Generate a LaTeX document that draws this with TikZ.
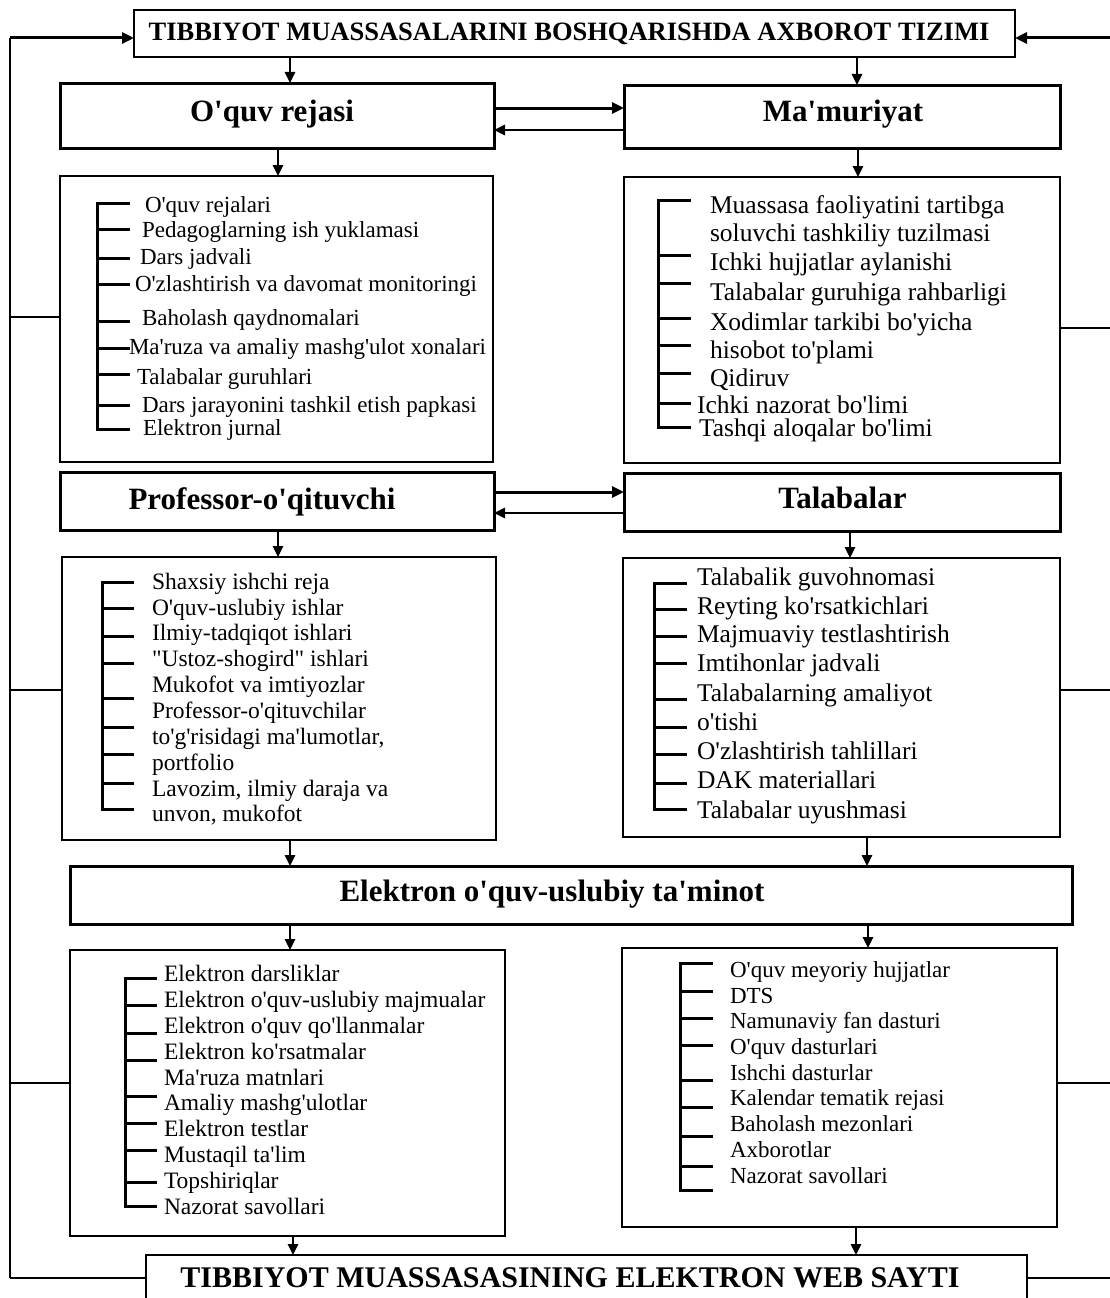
\documentclass[tikz,border=0pt]{standalone}
\usepackage{fontspec}
\newfontfamily\tnr{Liberation Serif}
\usetikzlibrary{arrows.meta}
\begin{document}
\begin{tikzpicture}[x=1pt,y=1pt,
  every node/.style={inner sep=0pt, outer sep=0pt},
  thickbox/.style={draw, line width=3pt},
  thinbox/.style={draw, line width=2pt},
  ttl/.style={font=\tnr\bfseries\fontsize{31}{31}\selectfont},
  ttlcap/.style={font=\tnr\bfseries\fontsize{26.5}{26.5}\selectfont},
  ttlbot/.style={font=\tnr\bfseries\fontsize{30}{30}\selectfont},
  itemS/.style={anchor=base west, font=\tnr\fontsize{23}{23}\selectfont},
  itemM/.style={anchor=base west, font=\tnr\fontsize{23.5}{23.5}\selectfont},
  itemL/.style={anchor=base west, font=\tnr\fontsize{25.5}{25.5}\selectfont},
  arr/.style={line width=2.5pt, -{Triangle[length=11pt,width=10pt]}},
  harr/.style={line width=3pt, -{Triangle[length=12pt,width=11pt]}},
  fb/.style={line width=2pt},
  brk/.style={line width=3pt, line cap=rect}
]
\useasboundingbox (0,0) rectangle (1110,-1298);
\clip (0,0) rectangle (1110,-1298);
\fill[white] (0,0) rectangle (1110,-1298);

% ---------------- boxes ----------------
\node[thinbox, minimum width=881pt, minimum height=47pt] (top) at (574.5,-33.5) {};
\node[thickbox, minimum width=434pt, minimum height=65pt] (rejasi) at (277,-115.5) {};
\node[thickbox, minimum width=436pt, minimum height=63pt] (mamur) at (842,-116.5) {};
\node[thinbox, minimum width=433pt, minimum height=286pt] (listA) at (276.5,-319) {};
\node[thinbox, minimum width=436pt, minimum height=286pt] (listB) at (842,-320) {};
\node[thickbox, minimum width=434pt, minimum height=58pt] (prof) at (277,-501) {};
\node[thickbox, minimum width=436pt, minimum height=58pt] (talab) at (842,-502) {};
\node[thinbox, minimum width=434pt, minimum height=283pt] (listC) at (279,-698.5) {};
\node[thinbox, minimum width=437pt, minimum height=279pt] (listD) at (841.5,-697.5) {};
\node[thickbox, minimum width=1002pt, minimum height=58pt] (elek) at (571,-895) {};
\node[thinbox, minimum width=435pt, minimum height=286pt] (listE) at (287.5,-1093) {};
\node[thinbox, minimum width=435pt, minimum height=279pt] (listF) at (839.5,-1087.5) {};
\node[thinbox, minimum width=881pt, minimum height=65pt] (bottom) at (586.5,-1287.5) {};

% ---------------- titles ----------------
\node[ttlcap] (topT) at (569,-34) {TIBBIYOT MUASSASALARINI BOSHQARISHDA AXBOROT TIZIMI};
\node[ttl] (rejasiT) at (272,-114) {O'quv rejasi};
\node[ttl] (mamurT) at (843,-114) {Ma'muriyat};
\node[ttl] (profT) at (262,-502) {Professor-o'qituvchi};
\node[ttl] (talabT) at (842.5,-498) {Talabalar};
\node[ttl] (elekT) at (552,-894) {Elektron o'quv-uslubiy ta'minot};
\node[ttlbot] (bottomT) at (570,-1278) {TIBBIYOT MUASSASASINING ELEKTRON WEB SAYTI};

% ---------------- list A ----------------
\foreach \t/\x/\y [count=\i] in {
  O'quv rejalari/145/205,
  Pedagoglarning ish yuklamasi/142/230,
  Dars jadvali/140/257,
  O'zlashtirish va davomat monitoringi/135/284,
  Baholash qaydnomalari/142/318,
  Ma'ruza va amaliy mashg'ulot xonalari/129/347,
  Talabalar guruhlari/137/377,
  Dars jarayonini tashkil etish papkasi/142/405,
  Elektron jurnal/143/428}
  \node[itemS] (a\i) at (\x,-\y-7.5) {\t};
\draw[brk] (97,-203) -- (97,-429);
\foreach \t in {203,229,258,284,321,348,374,405,429}
  \draw[brk] (97,-\t) -- (128,-\t);

% ---------------- list B ----------------
\foreach \t/\x/\y [count=\i] in {
  Muassasa faoliyatini tartibga/710/205,
  soluvchi tashkiliy tuzilmasi/710/233,
  Ichki hujjatlar aylanishi/710/262,
  Talabalar guruhiga rahbarligi/710/292,
  Xodimlar tarkibi bo'yicha/710/322,
  hisobot to'plami/710/350,
  Qidiruv/710/378,
  Ichki nazorat bo'limi/697/405,
  Tashqi aloqalar bo'limi/699/428}
  \node[itemL] (b\i) at (\x,-\y-8) {\t};
\draw[brk] (658,-200) -- (658,-427);
\foreach \t in {200,255,283,318,345,373,403,427}
  \draw[brk] (658,-\t) -- (689,-\t);

% ---------------- list C ----------------
\foreach \t/\x/\y [count=\i] in {
  Shaxsiy ishchi reja/152/582,
  O'quv-uslubiy ishlar/152/608,
  Ilmiy-tadqiqot ishlari/152/633,
  "Ustoz-shogird" ishlari/152/659,
  Mukofot va imtiyozlar/152/685,
  Professor-o'qituvchilar/152/711,
  {to'g'risidagi ma'lumotlar,}/152/737,
  portfolio/152/763,
  {Lavozim, ilmiy daraja va}/152/789,
  {unvon, mukofot}/152/814}
  \node[itemM] (c\i) at (\x,-\y-7.5) {\t};
\draw[brk] (102,-582) -- (102,-809);
\foreach \t in {582,608,636,663,698,727,754,783,809}
  \draw[brk] (102,-\t) -- (132,-\t);

% ---------------- list D ----------------
\foreach \t/\x/\y [count=\i] in {
  Talabalik guvohnomasi/697/577,
  Reyting ko'rsatkichlari/697/606,
  Majmuaviy testlashtirish/697/634,
  Imtihonlar jadvali/697/663,
  Talabalarning amaliyot/697/693,
  o'tishi/697/722,
  O'zlashtirish tahlillari/697/751,
  DAK materiallari/697/780,
  Talabalar uyushmasi/697/810}
  \node[itemL] (d\i) at (\x,-\y-8) {\t};
\draw[brk] (654,-583) -- (654,-809);
\foreach \t in {583,609,636,663,699,727,754,783,809}
  \draw[brk] (654,-\t) -- (685,-\t);

% ---------------- list E ----------------
\foreach \t/\x/\y [count=\i] in {
  Elektron darsliklar/164/974,
  Elektron o'quv-uslubiy majmualar/164/1000,
  Elektron o'quv qo'llanmalar/164/1026,
  Elektron ko'rsatmalar/164/1052,
  Ma'ruza matnlari/164/1078,
  Amaliy mashg'ulotlar/164/1103,
  Elektron testlar/164/1129,
  Mustaqil ta'lim/164/1155,
  Topshiriqlar/164/1181,
  Nazorat savollari/164/1207}
  \node[itemM] (e\i) at (\x,-\y-7.5) {\t};
\draw[brk] (125,-978) -- (125,-1206);
\foreach \t in {978,1005,1033,1060,1096,1123,1150,1182,1206}
  \draw[brk] (125,-\t) -- (155,-\t);

% ---------------- list F ----------------
\foreach \t/\x/\y [count=\i] in {
  O'quv meyoriy hujjatlar/730/970,
  DTS/730/996,
  Namunaviy fan dasturi/730/1021,
  O'quv dasturlari/730/1047,
  Ishchi dasturlar/730/1073,
  Kalendar tematik rejasi/730/1098,
  Baholash mezonlari/730/1124,
  Axborotlar/730/1150,
  Nazorat savollari/730/1176}
  \node[itemS] (f\i) at (\x,-\y-7.5) {\t};
\draw[brk] (680,-963) -- (680,-1190);
\foreach \t in {963,991,1018,1045,1080,1107,1136,1166,1190}
  \draw[brk] (680,-\t) -- (711,-\t);

% ---------------- vertical connectors ----------------
\coordinate (cA) at (290,0);
\coordinate (cB) at (857,0);
\coordinate (cC) at (278,0);
\coordinate (cD) at (858,0);
\coordinate (cE) at (850,0);
\coordinate (cF) at (290,0);
\coordinate (cG) at (867,0);
\coordinate (cH) at (290,0);
\coordinate (cI) at (868,0);
\coordinate (cJ) at (293,0);
\coordinate (cK) at (856,0);
\draw[arr] (top.south -| cA) -- (rejasi.north -| cA);
\draw[arr] (top.south -| cB) -- (mamur.north -| cB);
\draw[arr] (rejasi.south -| cC) -- (listA.north -| cC);
\draw[arr] (mamur.south -| cD) -- (listB.north -| cD);
\draw[arr] (prof.south -| cC) -- (listC.north -| cC);
\draw[arr] (talab.south -| cE) -- (listD.north -| cE);
\draw[arr] (listC.south -| cF) -- (elek.north -| cF);
\draw[arr] (listD.south -| cG) -- (elek.north -| cG);
\draw[arr] (elek.south -| cH) -- (listE.north -| cH);
\draw[arr] (elek.south -| cI) -- (listF.north -| cI);
\draw[arr] (listE.south -| cJ) -- (bottom.north -| cJ);
\draw[arr] (listF.south -| cK) -- (bottom.north -| cK);

% ---------------- horizontal connectors ----------------
\coordinate (h1) at (0,-108);
\coordinate (h2) at (0,-130);
\coordinate (h3) at (0,-492);
\coordinate (h4) at (0,-513);
\draw[harr] (rejasi.east |- h1) -- (mamur.west |- h1);
\draw[arr] (mamur.west |- h2) -- (rejasi.east |- h2);
\draw[harr] (prof.east |- h3) -- (talab.west |- h3);
\draw[arr] (talab.west |- h4) -- (prof.east |- h4);

% ---------------- feedback lines ----------------
\coordinate (Ltop) at (10,-38);
\coordinate (Lbot) at (10,-1278);
\coordinate (LA) at (10,-317);
\coordinate (LC) at (10,-690);
\coordinate (LE) at (10,-1083);
\draw[fb] (Lbot) -- (Ltop);
\draw[harr] (Ltop) -- (top.west |- Ltop);
\draw[fb] (listA.west |- LA) -- (LA);
\draw[fb] (listC.west |- LC) -- (LC);
\draw[fb] (listE.west |- LE) -- (LE);
\draw[fb] (bottom.west |- Lbot) -- (Lbot);

\coordinate (Rtop) at (1111,-38);
\coordinate (Rbot) at (1111,-1278);
\coordinate (RB) at (1111,-328);
\coordinate (RD) at (1111,-690);
\coordinate (RF) at (1111,-1083);
\draw[fb] (Rbot) -- (Rtop);
\draw[harr] (Rtop) -- (top.east |- Rtop);
\draw[fb] (listB.east |- RB) -- (RB);
\draw[fb] (listD.east |- RD) -- (RD);
\draw[fb] (listF.east |- RF) -- (RF);
\draw[fb] (bottom.east |- Rbot) -- (Rbot);
\end{tikzpicture}
\end{document}
